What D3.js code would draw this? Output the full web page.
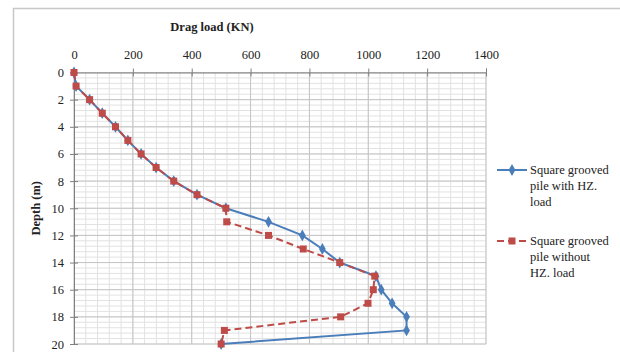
<!DOCTYPE html>
<html>
<head>
<meta charset="utf-8">
<script src="https://cdn.jsdelivr.net/npm/d3@7"></script>
<style>
  body { margin: 0; background: #fff; }
  svg text { font-family: "Liberation Serif", "Times New Roman", serif; fill: #222; }
</style>
</head>
<body>
<script>
// values
const depths = [0, 1, 2, 3, 4, 5, 6, 7, 8, 9, 10, 11, 12, 13, 14, 15, 16, 17, 18, 19, 20];
const withHZ = [0, 7, 53, 96, 141, 183, 228, 279, 339, 418, 516, 661, 776, 844, 903, 1026, 1044, 1081, 1130, 1130, 500];
const withoutHZ = [0, 7, 53, 96, 141, 183, 228, 279, 339, 418, 516, 519, 661, 779, 903, 1022, 1017, 999, 906, 511, 500];
const xTicks = [0, 200, 400, 600, 800, 1000, 1200, 1400];
const yTicks = [0, 2, 4, 6, 8, 10, 12, 14, 16, 18, 20];
const seriesNames = [
  ["Square grooved", "pile with HZ.", "load"],
  ["Square grooved", "pile without", "HZ. load"]
];

const width = 620, height = 352;
const svg = d3.select("body").append("svg")
  .attr("width", width)
  .attr("height", height);

// chart border
svg.append("rect")
  .attr("x", 13.5).attr("y", 8.5)
  .attr("width", 640).attr("height", 400)
  .attr("fill", "none")
  .attr("stroke", "#c8c8c8")
  .attr("stroke-width", 1.5);

const x = d3.scaleLinear().domain([0, 1400]).range([74, 486]);
const y = d3.scaleLinear().domain([0, 20]).range([72.5, 344]);

// minor grid
const g = svg.append("g");
g.selectAll(".vminor").data(d3.range(0, 1401, 40)).enter().append("line")
  .attr("x1", d => x(d)).attr("x2", d => x(d))
  .attr("y1", y(0)).attr("y2", y(20))
  .attr("stroke", "#e2e2e2").attr("stroke-width", 1);
g.selectAll(".hminor").data(d3.range(0, 20.01, 0.4)).enter().append("line")
  .attr("x1", x(0)).attr("x2", x(1400))
  .attr("y1", d => y(d)).attr("y2", d => y(d))
  .attr("stroke", "#e2e2e2").attr("stroke-width", 1);
// major grid
g.selectAll(".vmajor").data(xTicks).enter().append("line")
  .attr("x1", d => x(d)).attr("x2", d => x(d))
  .attr("y1", y(0)).attr("y2", y(20))
  .attr("stroke", "#c4c4c4").attr("stroke-width", 1);
g.selectAll(".hmajor").data(yTicks).enter().append("line")
  .attr("x1", x(0)).attr("x2", x(1400))
  .attr("y1", d => y(d)).attr("y2", d => y(d))
  .attr("stroke", "#c4c4c4").attr("stroke-width", 1);

// axes
const xAxis = svg.append("g")
  .attr("transform", `translate(0,${y(0)})`)
  .call(d3.axisTop(x).tickValues(xTicks).tickFormat(d3.format("d")).tickSize(4).tickPadding(10));
const yAxis = svg.append("g")
  .attr("transform", `translate(${x(0)},0)`)
  .call(d3.axisLeft(y).tickValues(yTicks).tickFormat(d3.format("d")).tickSize(4).tickPadding(6));
[xAxis, yAxis].forEach(a => {
  a.attr("font-family", null).attr("font-size", null);
  a.select(".domain").attr("stroke", "#808080");
  a.selectAll(".tick line").attr("stroke", "#808080");
  a.selectAll(".tick text").style("font-size", "12.5px").attr("fill", "#222");
});
xAxis.selectAll(".tick line").attr("y2", 4).attr("y1", -4);
yAxis.selectAll(".tick line").attr("x1", -4).attr("x2", 4);

svg.append("text")
  .attr("x", 212).attr("y", 31)
  .attr("text-anchor", "middle")
  .style("font-size", "12.5px").attr("font-weight", "bold")
  .text("Drag load (KN)");
svg.append("text")
  .attr("transform", `translate(40,${(y(0) + y(20)) / 2}) rotate(-90)`)
  .attr("text-anchor", "middle")
  .style("font-size", "12.5px").attr("font-weight", "bold")
  .text("Depth (m)");

const line = d3.line().x(d => x(d[0])).y(d => y(d[1]));
const blue = "#4a7ebb", red = "#be4b48";

const ptsRed = depths.map((d, i) => [withoutHZ[i], d]);
const ptsBlue = depths.map((d, i) => [withHZ[i], d]);

svg.append("path").datum(ptsBlue)
  .attr("d", line).attr("fill", "none")
  .attr("stroke", blue).attr("stroke-width", 2);
svg.selectAll(".bm").data(ptsBlue).enter().append("path")
  .attr("d", d3.symbol(d3.symbolDiamond, 40))
  .attr("transform", d => `translate(${x(d[0])},${y(d[1])})`)
  .attr("fill", blue);

svg.append("path").datum(ptsRed)
  .attr("d", line).attr("fill", "none")
  .attr("stroke", red).attr("stroke-width", 2)
  .attr("stroke-dasharray", "7,4");
svg.selectAll(".rm").data(ptsRed).enter().append("rect")
  .attr("x", d => x(d[0]) - 3.5).attr("y", d => y(d[1]) - 3.5)
  .attr("width", 7).attr("height", 7)
  .attr("fill", red);

// legend
const leg = svg.append("g");
const legY = [170, 241];
[[blue, null, "diamond"], [red, "7,4", "square"]].forEach((s, i) => {
  const ly = legY[i];
  leg.append("line").attr("x1", 497).attr("x2", 527)
    .attr("y1", ly).attr("y2", ly)
    .attr("stroke", s[0]).attr("stroke-width", 2)
    .attr("stroke-dasharray", s[1]);
  if (s[2] === "diamond") {
    leg.append("path").attr("d", d3.symbol(d3.symbolDiamond, 40))
      .attr("transform", `translate(512,${ly})`).attr("fill", s[0]);
  } else {
    leg.append("rect").attr("x", 508.5).attr("y", ly - 3.5)
      .attr("width", 7).attr("height", 7).attr("fill", s[0]);
  }
  seriesNames[i].forEach((t, j) => {
    leg.append("text").attr("x", 530).attr("y", ly + 4 + j * 16)
      .style("font-size", "12.5px").text(t);
  });
});
</script>
</body>
</html>
